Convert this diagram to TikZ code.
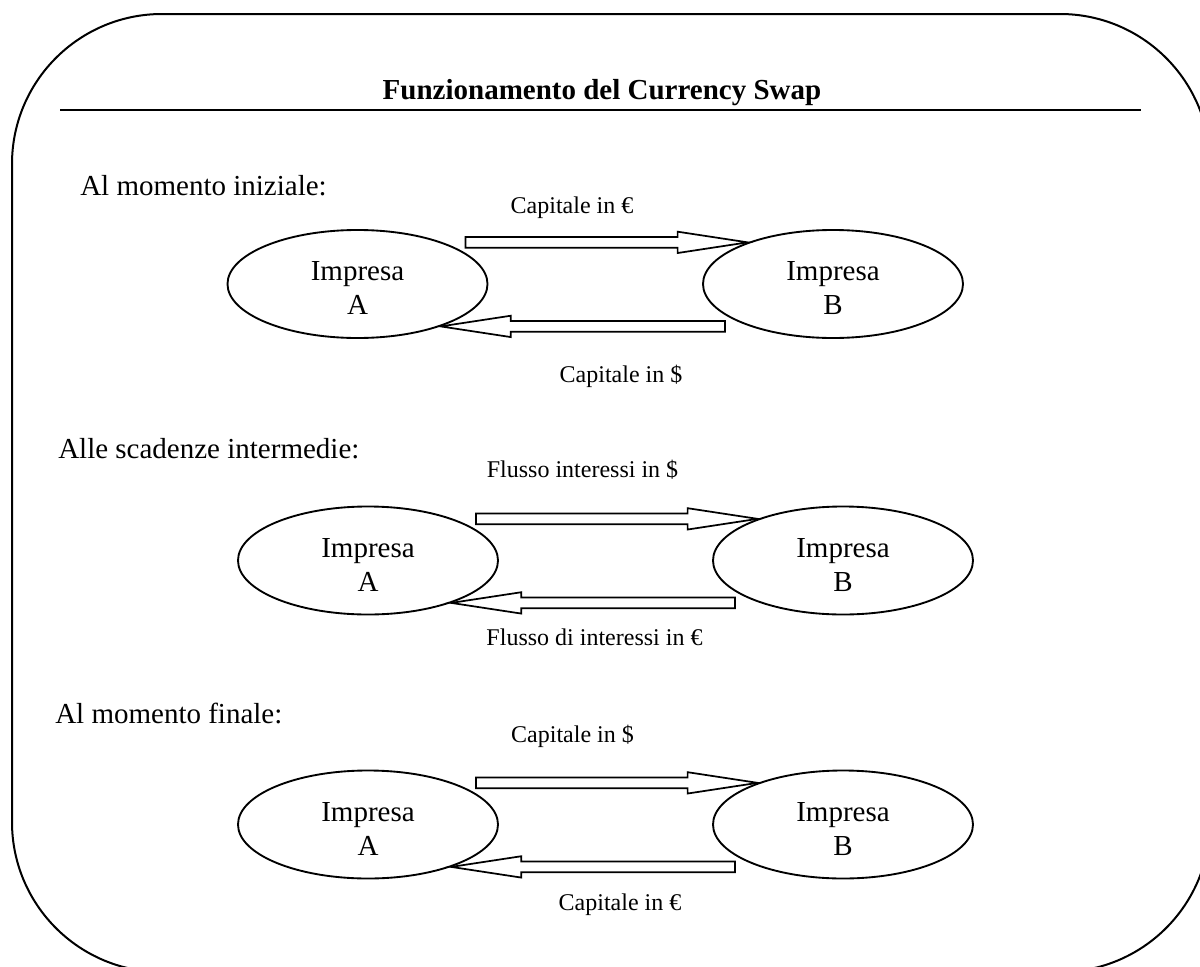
\documentclass[tikz,border=0pt]{standalone}
\usepackage{fontspec}
\setmainfont{Liberation Serif}
\usetikzlibrary{calc,shapes.geometric}
\tikzset{
  firm/.style={ellipse, draw, line width=1.4pt, minimum width=195pt, minimum height=81pt, inner sep=0pt},
  firmlabel/.style={font=\fontsize{21.75}{25.5}\selectfont, align=center, yshift=-3.3pt, inner sep=0pt},
  barrow/.style={draw, line width=1.3pt, fill=white, line join=miter},
  flowlabel/.style={font=\fontsize{18}{21}\selectfont, anchor=base, inner sep=0pt},
  phase/.style={font=\fontsize{21.75}{25.5}\selectfont, anchor=base west, inner sep=0pt},
  frame/.style={draw, line width=1.5pt, rounded corners=112.5pt},
}
\newcommand{\swapflow}[4]{%
  \draw[barrow] let \p1=($(#1.center)+(#2,0)$), \p2=(#3) in
    (\x1,\y2+4pt) -- ({\x2-(#4)*52.5pt},\y2+4pt) -- ({\x2-(#4)*52.5pt},\y2+8pt) -- (\x2,\y2)
    -- ({\x2-(#4)*52.5pt},\y2-8pt) -- ({\x2-(#4)*52.5pt},\y2-4pt) -- (\x1,\y2-4pt) -- cycle;}
\begin{document}
\begin{tikzpicture}[x=0.75pt,y=-0.75pt]
\useasboundingbox (0,0) rectangle (1200,967);
\clip (0,0) rectangle (1200,967);
\fill[white] (0,0) rectangle (1200,967);
\draw[frame] (12,14) rectangle (1210,972);
% title
\node[font=\bfseries\fontsize{21.75}{25}\selectfont, anchor=base, inner sep=0pt] (title) at (602,99) {Funzionamento del Currency Swap};
\coordinate (ruleL) at (60,110);
\coordinate (ruleR) at (1141,110);
\draw[line width=1.3pt] (ruleL) -- (ruleR);
% phase headings
\node[phase] (p1) at (80,195) {Al momento iniziale:};
\node[phase] (p2) at (58,458) {Alle scadenze intermedie:};
\node[phase] (p3) at (55,723) {Al momento finale:};
% firms
\node[firm, label={[firmlabel]center:{Impresa\\A}}] (A1) at (357.5,284) {};
\node[firm, label={[firmlabel]center:{Impresa\\B}}] (B1) at (833,284) {};
\node[firm, label={[firmlabel]center:{Impresa\\A}}] (A2) at (368,560.5) {};
\node[firm, label={[firmlabel]center:{Impresa\\B}}] (B2) at (843,560.5) {};
\node[firm, label={[firmlabel]center:{Impresa\\A}}] (A3) at (368,824.5) {};
\node[firm, label={[firmlabel]center:{Impresa\\B}}] (B3) at (843,824.5) {};
% flows
\swapflow{A1}{108}{B1.154}{1}
\swapflow{B1}{-108}{A1.-27}{-1}
\swapflow{A2}{108}{B2.154}{1}
\swapflow{B2}{-108}{A2.-27}{-1}
\swapflow{A3}{108}{B3.154}{1}
\swapflow{B3}{-108}{A3.-27}{-1}
% flow labels
\node[flowlabel] (l1a) at (572,213) {Capitale in €};
\node[flowlabel] (l1b) at (621,382) {Capitale in \$};
\node[flowlabel] (l2a) at (582.5,477) {Flusso interessi in \$};
\node[flowlabel] (l2b) at (594.5,645) {Flusso di interessi in €};
\node[flowlabel] (l3a) at (572.5,742) {Capitale in \$};
\node[flowlabel] (l3b) at (620,910) {Capitale in €};
\end{tikzpicture}
\end{document}
